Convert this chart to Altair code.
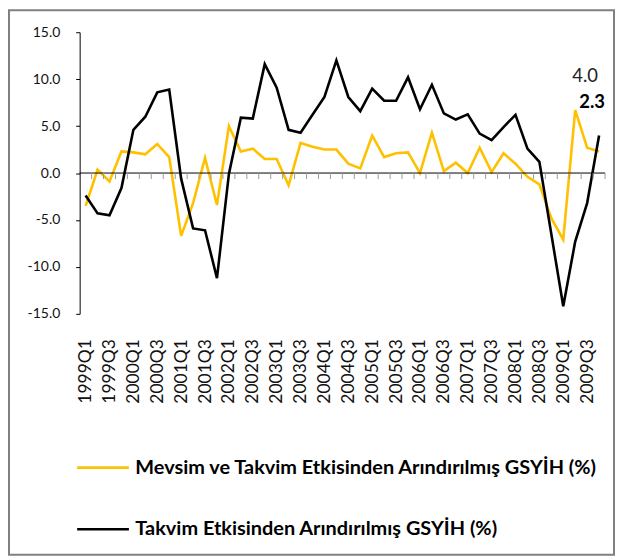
import json
import altair as alt
import pandas as pd

quarters = [f"{y}Q{q}" for y in range(1999, 2010) for q in range(1, 5)]

mevsim = [-3.5, 0.35, -0.9, 2.3, 2.2, 2.0, 3.1, 1.7,
          -6.7, -3.2, 1.6, -3.4,
          5.0, 2.3, 2.6, 1.5, 1.5, -1.3, 3.2, 2.8, 2.5, 2.5,
          1.0, 0.5, 4.0, 1.7, 2.1, 2.2, 0.0, 4.3, 0.2, 1.1, 0.0, 2.7,
          0.1, 2.1, 1.0, -0.4, -1.2, -4.8, -7.1, 6.7, 2.7, 2.3]
takvim = [-2.4, -4.3, -4.5, -1.6, 4.6, 6.0, 8.6, 8.9,
          -0.6, -5.9, -6.1, -11.2,
          -0.1, 5.9, 5.8, 11.6, 9.1, 4.6, 4.3, 6.2, 8.1, 12.0,
          8.1, 6.6, 9.0, 7.7, 7.7, 10.2, 6.8, 9.4, 6.35, 5.7, 6.25, 4.2,
          3.5, 4.9, 6.2, 2.6, 1.2, -6.5, -14.2, -7.3, -3.2, 4.0]

name_m = "Mevsim ve Takvim Etkisinden Arındırılmış GSYİH (%)"
name_t = "Takvim Etkisinden Arındırılmış GSYİH (%)"
y_ticks = [-15, -10, -5, 0, 5, 10, 15]

rows = []
for i, q in enumerate(quarters):
    rows.append({"i": i, "q": q, "seri": name_m, "v": mevsim[i]})
for i, q in enumerate(quarters):
    rows.append({"i": i, "q": q, "seri": name_t, "v": takvim[i]})
df = pd.DataFrame(rows)

FONT = "Lato"
xscale = alt.Scale(domain=[-0.5, len(quarters) - 0.5], nice=False, zero=False)
yscale = alt.Scale(domain=[-15, 15], nice=False)

label_expr = json.dumps(quarters) + "[datum.value]"

xaxis = alt.Axis(values=list(range(0, len(quarters), 2)), labelExpr=label_expr,
                 labelAngle=-90, labelAlign="right", labelBaseline="middle",
                 labelOverlap=False, labelFlush=False, labelSeparation=0,
                 domain=False, ticks=False, grid=False,
                 labelPadding=25, labelFont=FONT, labelFontSize=17.5,
                 labelColor="#111111", title=None)
yaxis = alt.Axis(values=y_ticks,
                 labelExpr="replace(format(datum.value, '.1f'), '\u2212', '-')",
                 labelOverlap=False, labelFlush=False,
                 grid=False, domainColor="#000000", tickColor="#000000",
                 tickSize=4, labelPadding=16, labelFont=FONT, labelFontSize=14,
                 labelColor="#111111", title=None)

lines = alt.Chart(df).mark_line(strokeWidth=2.6).encode(
    x=alt.X("i:Q", scale=xscale, axis=xaxis),
    y=alt.Y("v:Q", scale=yscale, axis=yaxis),
    color=alt.Color("seri:N",
                    scale=alt.Scale(domain=[name_m, name_t], range=["#FFC000", "#000000"]),
                    legend=alt.Legend(orient="none", legendX=-4, legendY=410,
                                      direction="vertical", title=None,
                                      symbolType="stroke", symbolSize=2704,
                                      symbolStrokeWidth=2.6, labelFont=FONT,
                                      labelFontSize=20, labelFontWeight="bold",
                                      labelColor="#000000", labelOffset=5,
                                      rowPadding=24, labelLimit=600)),
    order="i:Q",
)

zero = alt.Chart(pd.DataFrame({"z": [0]})).mark_rule(color="#000000", strokeWidth=1).encode(
    y=alt.Y("z:Q", scale=yscale, axis=yaxis)
)

bounds = pd.DataFrame({"b": [i + 0.5 for i in range(len(quarters))]})
ticks = alt.Chart(bounds).mark_rule(color="#9a9a9a", strokeWidth=1).encode(
    x=alt.X("b:Q", scale=xscale, axis=xaxis),
    y=alt.datum(0),
    y2=alt.datum(-0.64),
)

last = pd.DataFrame({"i": [len(quarters) - 1], "t": [takvim[-1]], "m": [mevsim[-1]]})
lab_t = alt.Chart(last).mark_text(font=FONT, fontSize=18.5, color="#222222",
                                   align="center", baseline="middle", dx=-14, dy=-60).encode(
    x=alt.X("i:Q", scale=xscale, axis=xaxis), y=alt.Y("t:Q", scale=yscale, axis=yaxis),
    text=alt.Text("t:Q", format=".1f"))
lab_m = alt.Chart(last).mark_text(font=FONT, fontSize=18.5, fontWeight="bold", color="#000000",
                                   align="center", baseline="middle", dx=-7, dy=-50).encode(
    x=alt.X("i:Q", scale=xscale, axis=xaxis), y=alt.Y("m:Q", scale=yscale, axis=yaxis),
    text=alt.Text("m:Q", format=".1f"))

frame = alt.Chart(pd.DataFrame({"a": [0]})).mark_rect(
    fillOpacity=0, stroke="#808080", strokeWidth=2).encode(
    x=alt.value(-71), x2=alt.value(537), y=alt.value(-22), y2=alt.value(525))

chart = alt.layer(frame, lines, zero, ticks, lab_t, lab_m).properties(
    width=528, height=283,
    autosize=alt.AutoSizeParams(type="none"),
    padding={"left": 72, "top": 23, "right": 11, "bottom": 242},
).configure_view(stroke=None).configure_axisX(labelOverlap=False)

chart.save("out.html", embed_options={"renderer": "svg", "actions": False})
